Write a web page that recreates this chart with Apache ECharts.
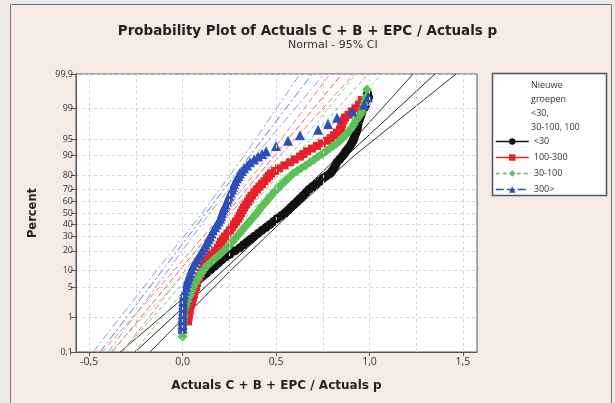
<!DOCTYPE html>
<html>
<head>
<meta charset="utf-8">
<script src="https://cdn.jsdelivr.net/npm/echarts@6/dist/echarts.min.js"></script>
<style>
  html, body { margin: 0; padding: 0; background: #ecebe9; }
  #chart { width: 615px; height: 403px; }
</style>
</head>
<body>
<div id="chart"></div>
<script>
// as-labelled ticks of the probability (percent) axis
var yTickPct = [0.1, 1, 5, 10, 20, 30, 40, 50, 60, 70, 80, 90, 95, 99, 99.9];
var yTickLabels = ['0,1', '1', '5', '10', '20', '30', '40', '50', '60', '70', '80', '90', '95', '99', '99,9'];
var xTickValues = [-0.5, 0, 0.5, 1, 1.5];
var xTickLabels = ['-0,5', '0,0', '0,5', '1,0', '1,5'];
var xGridValues = [-0.5, -0.25, 0, 0.25, 0.5, 0.75, 1, 1.25, 1.5];

var groupNames = ['<30', '100-300', '30-100', '300>'];

// data points: [x, percent]
var dataLt30 = [[0.000, 0.5], [0.003, 0.8], [0.008, 1.2], [0.016, 1.8], [0.024, 2.5], [0.035, 3.5], [0.051, 5], [0.066, 6],
  [0.083, 7], [0.104, 8], [0.126, 9], [0.150, 10.5], [0.174, 12], [0.193, 13.5], [0.211, 15], [0.232, 16.5], [0.254, 18],
  [0.281, 20], [0.307, 22], [0.326, 24], [0.345, 26], [0.364, 28], [0.382, 30], [0.404, 32.5], [0.425, 35], [0.447, 37.5],
  [0.468, 40], [0.487, 42.5], [0.505, 45], [0.527, 47.5], [0.548, 50], [0.565, 52.5], [0.580, 55], [0.596, 57.5],
  [0.612, 60], [0.628, 62.5], [0.644, 65], [0.660, 67.5], [0.676, 70], [0.695, 72], [0.714, 74], [0.733, 76], [0.751, 78],
  [0.770, 79.5], [0.789, 81], [0.800, 82.5], [0.810, 84], [0.818, 85.5], [0.826, 87], [0.840, 88.3], [0.853, 89.5],
  [0.864, 90.5], [0.874, 91.5], [0.885, 92.4], [0.896, 93.2], [0.904, 93.9], [0.912, 94.6], [0.917, 95.2], [0.922, 95.8],
  [0.928, 96.3], [0.933, 96.8], [0.936, 97.2], [0.939, 97.6], [0.944, 98], [0.949, 98.3], [0.955, 98.55], [0.960, 98.8],
  [0.970, 99], [0.981, 99.2], [0.995, 99.5], [0.990, 99.6]];
var data100to300 = [[0.029, 0.8], [0.032, 1.0], [0.035, 1.2], [0.038, 1.5], [0.040, 1.8], [0.045, 2.1], [0.051, 2.5],
  [0.056, 3], [0.061, 3.5], [0.066, 4.2], [0.072, 5], [0.077, 6], [0.083, 7], [0.091, 8], [0.099, 9], [0.107, 10.5],
  [0.115, 12], [0.125, 13.5], [0.136, 15], [0.147, 16.5], [0.158, 18], [0.174, 20], [0.190, 22], [0.198, 24], [0.206, 26],
  [0.216, 28], [0.227, 30], [0.240, 32.5], [0.254, 35], [0.265, 37.5], [0.275, 40], [0.286, 42.5], [0.297, 45],
  [0.305, 47.5], [0.313, 50], [0.321, 52.5], [0.329, 55], [0.339, 57.5], [0.350, 60], [0.360, 62.5], [0.371, 65],
  [0.384, 67.5], [0.398, 70], [0.411, 72], [0.425, 74], [0.438, 76], [0.452, 78], [0.462, 79.5], [0.473, 81], [0.494, 82.5],
  [0.516, 84], [0.545, 85.5], [0.575, 87], [0.600, 88.3], [0.628, 89.5], [0.647, 90.5], [0.666, 91.5], [0.692, 92.4],
  [0.719, 93.2], [0.745, 93.9], [0.773, 94.6], [0.792, 95.2], [0.810, 95.8], [0.826, 96.3], [0.842, 96.8], [0.848, 97.2],
  [0.853, 97.6], [0.861, 98], [0.869, 98.3], [0.888, 98.55], [0.906, 98.8], [0.925, 99], [0.943, 99.2], [0.959, 99.4]];
var data30to100 = [[0.000, 0.3], [0.000, 0.4], [0.000, 0.5], [0.002, 0.65], [0.003, 0.8], [0.005, 1.0], [0.008, 1.2],
  [0.010, 1.5], [0.013, 1.8], [0.018, 2.1], [0.024, 2.5], [0.032, 3], [0.040, 3.5], [0.048, 4.2], [0.056, 5], [0.067, 6],
  [0.078, 7], [0.088, 8], [0.099, 9], [0.115, 10.5], [0.131, 12], [0.150, 13.5], [0.168, 15], [0.185, 16.5], [0.201, 18],
  [0.220, 20], [0.238, 22], [0.252, 24], [0.265, 26], [0.278, 28], [0.291, 30], [0.305, 32.5], [0.318, 35], [0.332, 37.5],
  [0.345, 40], [0.358, 42.5], [0.371, 45], [0.385, 47.5], [0.398, 50], [0.409, 52.5], [0.420, 55], [0.434, 57.5],
  [0.447, 60], [0.460, 62.5], [0.473, 65], [0.489, 67.5], [0.505, 70], [0.518, 72], [0.532, 74], [0.548, 76], [0.564, 78],
  [0.578, 79.5], [0.591, 81], [0.612, 82.5], [0.634, 84], [0.658, 85.5], [0.682, 87], [0.704, 88.3], [0.725, 89.5],
  [0.746, 90.5], [0.767, 91.5], [0.786, 92.4], [0.805, 93.2], [0.824, 93.9], [0.842, 94.6], [0.856, 95.2], [0.869, 95.8],
  [0.883, 96.3], [0.896, 96.8], [0.907, 97.2], [0.917, 97.6], [0.928, 98], [0.939, 98.3], [0.950, 98.55], [0.960, 98.8],
  [0.966, 99], [0.971, 99.2], [0.976, 99.35], [0.981, 99.5], [0.987, 99.7]];
var data300plus = [[0.000, 0.5], [0.000, 0.65], [0.000, 0.8], [0.000, 1.0], [0.000, 1.2], [0.002, 1.5], [0.003, 1.8],
  [0.003, 2.1], [0.003, 2.5], [0.005, 3], [0.008, 3.5], [0.013, 4.2], [0.019, 5], [0.024, 6], [0.029, 7], [0.035, 8],
  [0.040, 9], [0.048, 10.5], [0.056, 12], [0.067, 13.5], [0.078, 15], [0.086, 16.5], [0.094, 18], [0.104, 20], [0.115, 22],
  [0.123, 24], [0.131, 26], [0.139, 28], [0.147, 30], [0.155, 32.5], [0.163, 35], [0.174, 37.5], [0.184, 40], [0.193, 42.5],
  [0.201, 45], [0.206, 47.5], [0.211, 50], [0.216, 52.5], [0.222, 55], [0.230, 57.5], [0.238, 60], [0.243, 62.5],
  [0.249, 65], [0.257, 67.5], [0.265, 70], [0.270, 72], [0.275, 74], [0.283, 76], [0.291, 78], [0.299, 79.5], [0.307, 81],
  [0.318, 82.5], [0.329, 84], [0.345, 85.5], [0.361, 87], [0.382, 88.3], [0.404, 89.5], [0.425, 90.5], [0.447, 91.5],
  [0.500, 93.2], [0.564, 94.6], [0.628, 95.8], [0.725, 96.8], [0.778, 97.6], [0.826, 98.3], [0.906, 98.8], [0.971, 99.2],
  [0.992, 99.5]];

// fitted line and 95% CI: x at these percents
var linePct = [0.1, 10, 50, 90, 99.9];
var fitLt30 = [-0.254, 0.216, 0.548, 0.880, 1.350];
var ciLoLt30 = [-0.334, 0.176, 0.518, 0.840, 1.233];
var ciHiLt30 = [-0.174, 0.256, 0.578, 0.920, 1.463];
var fit100to300 = [-0.377, -0.017, 0.238, 0.493, 0.853];
var ciLo100to300 = [-0.430, -0.047, 0.218, 0.463, 0.789];
var ciHi100to300 = [-0.324, 0.013, 0.258, 0.523, 0.917];
var fit30to100 = [-0.324, 0.061, 0.334, 0.607, 0.992];
var ciLo30to100 = [-0.388, 0.029, 0.309, 0.575, 0.928];
var ciHi30to100 = [-0.259, 0.093, 0.359, 0.639, 1.067];
var fit300plus = [-0.441, -0.109, 0.126, 0.361, 0.693];
var ciLo300plus = [-0.479, -0.139, 0.106, 0.331, 0.628];
var ciHi300plus = [-0.398, -0.079, 0.146, 0.391, 0.757];

// inverse normal cdf, the scale of a normal probability axis
function probit(p) {
  var a = [-39.69683028665376, 220.9460984245205, -275.9285104469687, 138.3577518672690, -30.66479806614716, 2.506628277459239];
  var b = [-54.47609879822406, 161.5858368580409, -155.6989798598866, 66.80131188771972, -13.28068155288572];
  var c = [-0.007784894002430293, -0.3223964580411365, -2.400758277161838, -2.549732539343734, 4.374664141464968, 2.938163982698783];
  var d = [0.007784695709041462, 0.3224671290700398, 2.445134137142996, 3.754408661907416];
  var pl = 0.02425, q, r;
  if (p < pl) {
    q = Math.sqrt(-2 * Math.log(p));
    return (((((c[0] * q + c[1]) * q + c[2]) * q + c[3]) * q + c[4]) * q + c[5]) / ((((d[0] * q + d[1]) * q + d[2]) * q + d[3]) * q + 1);
  }
  if (p > 1 - pl) {
    q = Math.sqrt(-2 * Math.log(1 - p));
    return -(((((c[0] * q + c[1]) * q + c[2]) * q + c[3]) * q + c[4]) * q + c[5]) / ((((d[0] * q + d[1]) * q + d[2]) * q + d[3]) * q + 1);
  }
  q = p - 0.5; r = q * q;
  return (((((a[0] * r + a[1]) * r + a[2]) * r + a[3]) * r + a[4]) * r + a[5]) * q / (((((b[0] * r + b[1]) * r + b[2]) * r + b[3]) * r + b[4]) * r + 1);
}

function toPlot(arr) {
  return arr.map(function (d) { return [d[0], probit(d[1] / 100)]; });
}
function lineXY(xs) {
  return xs.map(function (x, i) { return [x, probit(linePct[i] / 100)]; });
}

var yTickZ = yTickPct.map(function (p) { return probit(p / 100); });
var yMin = yTickZ[0];
var yMax = yTickZ[yTickZ.length - 1];

function bandSeries(name, xs, color, type) {
  return {
    name: name, type: 'line', data: lineXY(xs), symbol: 'none', silent: true, z: 2,
    lineStyle: { color: color, width: 1, type: type }
  };
}

function pointSeries(name, data, symbol, size, color) {
  return {
    name: name, type: 'line', data: toPlot(data), symbol: symbol, symbolSize: size,
    showAllSymbol: true, silent: true, z: 3,
    lineStyle: { opacity: 0, color: color }, itemStyle: { color: color }
  };
}

var chart = echarts.init(document.getElementById('chart'));

// vertical grid lines every 0,25
var gridSeries = bandSeries('fit <30', fitLt30, '#222', 'solid');
gridSeries.markLine = {
  silent: true, symbol: 'none', label: { show: false }, animation: false,
  lineStyle: { color: '#d4d4d4', type: [3, 3], width: 1 },
  emphasis: { disabled: true },
  data: xGridValues.map(function (v) { return { xAxis: v }; })
};

var option = {
  animation: false,
  backgroundColor: '#ecebe9',
  textStyle: { fontFamily: 'Open Sans' },
  graphic: [
    { type: 'rect', z: -10, shape: { x: 10.5, y: 4.5, width: 601, height: 420 },
      style: { fill: '#f3ebe4', stroke: '#777', lineWidth: 1 } },
    { type: 'rect', z: 1, shape: { x: 492.5, y: 73.5, width: 114, height: 122 },
      style: { fill: '#fff', stroke: '#555', lineWidth: 1.5 } }
  ],
  title: [{
    text: 'Probability Plot of Actuals C + B + EPC / Actuals p',
    left: 'center', top: 19,
    textStyle: { fontSize: 13.5, fontWeight: 'bold', color: '#222', fontFamily: 'DejaVu Sans' }
  }, {
    text: 'Normal - 95% CI',
    left: 288, top: 40, padding: 0,
    textStyle: { fontSize: 11, fontWeight: 'normal', color: '#333', fontFamily: 'DejaVu Sans' }
  }, {
    text: 'Nieuwe\ngroepen\n<30,\n30-100, 100',
    left: 531, top: 78, padding: 0,
    textStyle: { fontSize: 9, fontWeight: 'normal', color: '#333', lineHeight: 14 }
  }],
  legend: {
    orient: 'vertical', left: 495, top: 137, padding: 0, itemGap: 7,
    itemWidth: 33, itemHeight: 8,
    textStyle: { fontSize: 9, color: '#333' },
    data: [
      { name: groupNames[0], lineStyle: { opacity: 1, width: 1.5, type: 'solid', color: '#111' } },
      { name: groupNames[1], lineStyle: { opacity: 1, width: 1.5, type: 'solid', color: '#e8202a' } },
      { name: groupNames[2], lineStyle: { opacity: 1, width: 1.5, type: [4, 3], color: '#5cc05a' } },
      { name: groupNames[3], lineStyle: { opacity: 1, width: 1.5, type: [8, 3], color: '#2d4fb8' } }
    ]
  },
  grid: {
    left: 76, top: 74, right: 138, bottom: 51,
    show: true, backgroundColor: '#fff', borderColor: '#555', borderWidth: 1
  },
  xAxis: {
    type: 'value', min: -0.57, max: 1.575, position: 'bottom',
    name: 'Actuals C + B + EPC / Actuals p', nameLocation: 'middle', nameGap: 28,
    nameTextStyle: { fontWeight: 'bold', fontSize: 12, color: '#222', fontFamily: 'DejaVu Sans' },
    axisLine: { show: true, onZero: false, lineStyle: { color: '#555' } },
    axisTick: { show: true, length: 4, customValues: xTickValues, lineStyle: { color: '#555' } },
    axisLabel: {
      customValues: xTickValues, fontSize: 10.5, color: '#333', margin: 5,
      formatter: function (v) {
        var i = xTickValues.indexOf(Math.round(v * 100) / 100);
        return i >= 0 ? xTickLabels[i] : '';
      }
    },
    splitLine: { show: false }
  },
  yAxis: {
    type: 'value', min: yMin, max: yMax + 1e-9,
    name: 'Percent', nameLocation: 'middle', nameGap: 37,
    nameTextStyle: { fontWeight: 'bold', fontSize: 11.5, color: '#222', fontFamily: 'DejaVu Sans' },
    axisLine: { show: true, onZero: false, lineStyle: { color: '#555' } },
    axisTick: { show: true, length: 5, customValues: yTickZ, lineStyle: { color: '#555' } },
    axisLabel: {
      customValues: yTickZ, fontSize: 9, color: '#333', margin: 3,
      showMaxLabel: true, showMinLabel: true, hideOverlap: false,
      formatter: function (v) {
        for (var i = 0; i < yTickZ.length; i++) {
          if (Math.abs(yTickZ[i] - v) < 1e-6) return yTickLabels[i];
        }
        return '';
      }
    },
    splitLine: { show: true, lineStyle: { color: '#d4d4d4', type: [3, 3] } }
  },
  series: [
    gridSeries,
    bandSeries('ci1 <30', ciLoLt30, '#333', 'solid'),
    bandSeries('ci2 <30', ciHiLt30, '#333', 'solid'),
    bandSeries('fit 100-300', fit100to300, '#e05a5a', [6, 3]),
    bandSeries('ci1 100-300', ciLo100to300, '#e88080', [6, 3]),
    bandSeries('ci2 100-300', ciHi100to300, '#e88080', [6, 3]),
    bandSeries('fit 30-100', fit30to100, '#6cc46a', [4, 3]),
    bandSeries('ci1 30-100', ciLo30to100, '#8fd08d', [4, 3]),
    bandSeries('ci2 30-100', ciHi30to100, '#8fd08d', [4, 3]),
    bandSeries('fit 300>', fit300plus, '#6078c4', [8, 3, 2, 3]),
    bandSeries('ci1 300>', ciLo300plus, '#8d9ed4', [8, 3, 2, 3]),
    bandSeries('ci2 300>', ciHi300plus, '#8d9ed4', [8, 3, 2, 3]),
    pointSeries(groupNames[0], dataLt30, 'circle', 9, '#111'),
    pointSeries(groupNames[1], data100to300, 'rect', 8, '#e8202a'),
    pointSeries(groupNames[2], data30to100, 'diamond', 10, '#5cc05a'),
    pointSeries(groupNames[3], data300plus, 'triangle', 10, '#2d4fb8')
  ]
};

chart.setOption(option);
</script>
</body>
</html>
